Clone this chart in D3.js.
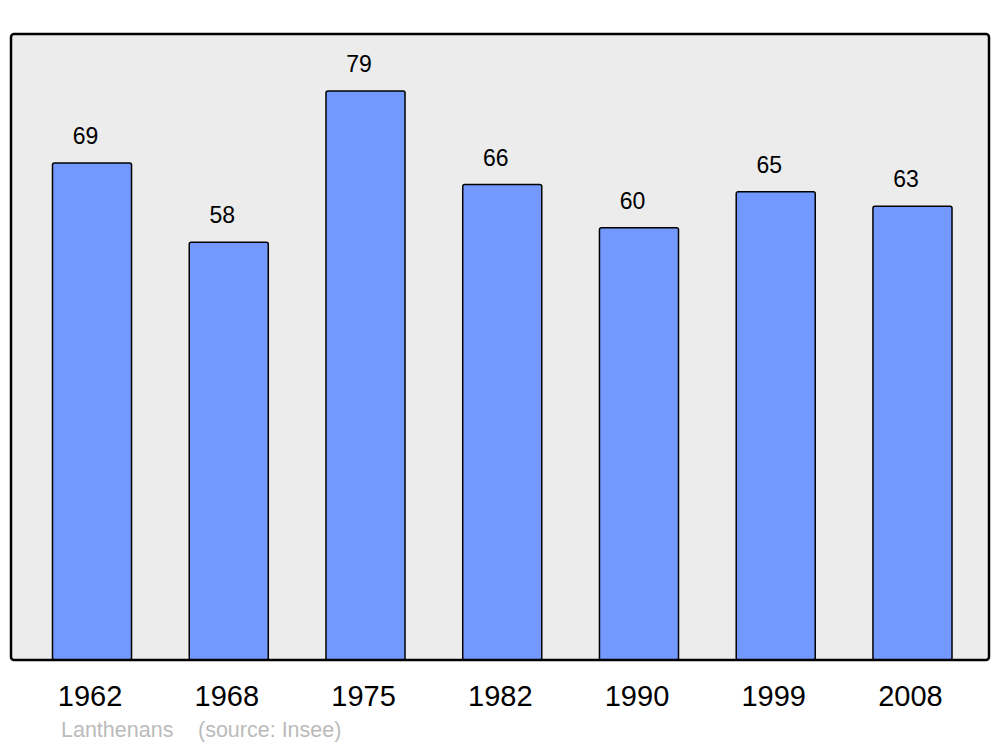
<!DOCTYPE html>
<html>
<head>
<meta charset="utf-8">
<script src="https://cdn.jsdelivr.net/npm/d3@7"></script>
<style>
  body { margin: 0; background: #fff; }
  text { font-family: "Liberation Sans", Arial, sans-serif; }
</style>
</head>
<body>
<div id="chart"></div>
<script>
var years = ["1962", "1968", "1975", "1982", "1990", "1999", "2008"];
var population = [69, 58, 79, 66, 60, 65, 63];
var place = "Lanthenans";
var source = "(source: Insee)";

var width = 1000, height = 747;
// plot frame
var frame = {left: 11, right: 989, top: 34, bottom: 660};

var svg = d3.select("#chart").append("svg")
    .attr("width", width)
    .attr("height", height);

// background panel
svg.append("rect")
    .attr("x", frame.left)
    .attr("y", frame.top)
    .attr("width", frame.right - frame.left)
    .attr("height", frame.bottom - frame.top)
    .attr("rx", 3)
    .style("fill", "#ececec");

var x = d3.scaleBand()
    .domain(years)
    .range([52.5, 952])
    .paddingInner(0.422)
    .paddingOuter(0);

var y = d3.scaleLinear()
    .domain([0, d3.max(population) * 1.1])
    .range([frame.bottom, frame.top]);

var data = years.map(function(d, i) { return {year: d, value: population[i]}; });

var bar = svg.selectAll("g.bar")
    .data(data)
    .enter()
    .append("g")
    .attr("class", "bar");

bar.append("rect")
    .attr("x", function(d) { return x(d.year); })
    .attr("y", function(d) { return y(d.value); })
    .attr("width", x.bandwidth())
    .attr("height", function(d) { return frame.bottom - y(d.value); })
    .attr("rx", 2)
    .style("fill", "#7399ff")
    .style("stroke", "#000")
    .style("stroke-width", 1.5);

// values above bars
bar.append("text")
    .attr("x", function(d) { return x(d.year) + x.bandwidth() / 2 - 6.5; })
    .attr("y", function(d) { return y(d.value) - 19; })
    .attr("text-anchor", "middle")
    .style("font-size", "23px")
    .style("fill", "#000")
    .text(function(d) { return d.value; });

// frame outline
svg.append("rect")
    .attr("x", frame.left)
    .attr("y", frame.top)
    .attr("width", frame.right - frame.left)
    .attr("height", frame.bottom - frame.top)
    .attr("rx", 3)
    .style("fill", "none")
    .style("stroke", "#000")
    .style("stroke-width", 2.5);

// year axis
var axis = svg.append("g")
    .attr("transform", "translate(0," + frame.bottom + ")")
    .call(d3.axisBottom(x).tickSize(0).tickPadding(25));
axis.select(".domain").remove();
axis.selectAll("text")
    .attr("dx", -2)
    .style("font-family", "'Liberation Sans', Arial, sans-serif")
    .style("font-size", "29px")
    .style("fill", "#000");

// caption
svg.append("text")
    .attr("x", 61)
    .attr("y", 737)
    .style("font-size", "21.5px")
    .style("fill", "#bbbbbb")
    .text(place);
svg.append("text")
    .attr("x", 198)
    .attr("y", 737)
    .style("font-size", "21.5px")
    .style("fill", "#bbbbbb")
    .text(source);
</script>
</body>
</html>
